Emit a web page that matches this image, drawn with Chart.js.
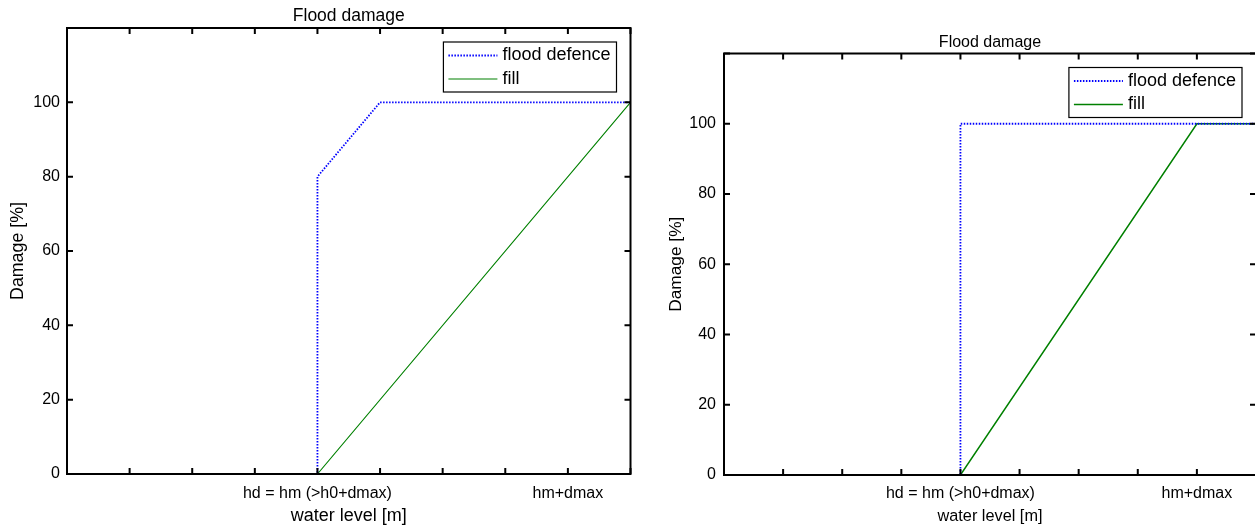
<!DOCTYPE html>
<html lang="en">
<head>
    <meta charset="UTF-8">
    <title>Flood damage</title>
    <script src="https://cdn.jsdelivr.net/npm/chart.js"></script>
    <style>
        body {
            margin: 0;
            background: white;
            overflow: hidden;
            width: 1255px;
            height: 525px;
        }
        .panel {
            position: absolute;
            top: 0;
        }
        #leftBox { left: 0; }
        #rightBox { left: 650px; }
    </style>
</head>
<body>
    <div class="panel" id="leftBox"><canvas id="leftChart" width="640" height="525"></canvas></div>
    <div class="panel" id="rightBox"><canvas id="rightChart" width="615" height="525"></canvas></div>

    <script>
        // left panel
        const leftDefenceX = [0, 4, 4, 5, 9];
        const leftDefenceY = [0, 0, 80, 100, 100];
        const leftFillX = [0, 4, 9];
        const leftFillY = [0, 0, 100];
        // right panel
        const rightDefenceX = [0, 4, 4, 9];
        const rightDefenceY = [0, 0, 100, 100];
        const rightFillX = [0, 4, 8, 9];
        const rightFillY = [0, 0, 100, 100];

        const seriesNames = ['flood defence', 'fill'];
        const xTickPos = [4, 8];
        const xTickLabels = ['hd = hm (>h0+dmax)', 'hm+dmax'];
        const yTicks = [0, 20, 40, 60, 80, 100];

        const FONT = "'Liberation Sans', Arial, sans-serif";

        function pts(xs, ys) {
            return xs.map((x, i) => ({ x: x, y: ys[i] }));
        }

        // frame with inward ticks + legend box inside the plot
        const framePlugin = {
            id: 'frame',
            afterDraw(chart, args, opts) {
                const ctx = chart.ctx;
                const a = chart.chartArea;
                const xs = chart.scales.x, ys = chart.scales.y;
                ctx.save();
                ctx.strokeStyle = '#000';
                ctx.lineWidth = 2;
                ctx.beginPath();
                xs.ticks.forEach(t => {
                    const px = xs.getPixelForValue(t.value);
                    ctx.moveTo(px, a.bottom); ctx.lineTo(px, a.bottom - 6);
                    ctx.moveTo(px, a.top); ctx.lineTo(px, a.top + 6);
                });
                ys.ticks.forEach(t => {
                    const py = ys.getPixelForValue(t.value);
                    ctx.moveTo(a.left, py); ctx.lineTo(a.left + 6, py);
                    ctx.moveTo(a.right, py); ctx.lineTo(a.right - 6, py);
                });
                ctx.stroke();
                ctx.strokeRect(a.left, a.top, a.right - a.left, a.bottom - a.top);

                // legend
                ctx.font = opts.fontSize + 'px ' + FONT;
                const sets = chart.data.datasets;
                let tw = 0;
                sets.forEach(d => { tw = Math.max(tw, ctx.measureText(d.label).width); });
                const bw = 5 + 49 + 5 + tw + 6;
                const bh = 50;
                const bx = a.right - opts.right - bw;
                const by = a.top + opts.top;
                ctx.fillStyle = 'white';
                ctx.fillRect(bx, by, bw, bh);
                ctx.lineWidth = 1.2;
                ctx.strokeRect(bx, by, bw, bh);
                sets.forEach((d, i) => {
                    const ry = by + 13.5 + i * 23.5;
                    ctx.beginPath();
                    ctx.strokeStyle = d.borderColor;
                    ctx.lineWidth = d.borderWidth;
                    ctx.setLineDash(d.borderDash || []);
                    ctx.moveTo(bx + 5, ry);
                    ctx.lineTo(bx + 54, ry);
                    ctx.stroke();
                    ctx.setLineDash([]);
                    ctx.fillStyle = '#000';
                    ctx.textBaseline = 'middle';
                    ctx.fillText(d.label, bx + 59, ry);
                });
                ctx.restore();
            }
        };

        function makeChart(id, defence, fill, cfg) {
            return new Chart(document.getElementById(id), {
                type: 'line',
                data: {
                    datasets: [
                        { label: seriesNames[0], data: defence, borderColor: '#0000ff', borderWidth: 1.8, borderDash: [1.5, 1.5], pointRadius: 0, tension: 0 },
                        { label: seriesNames[1], data: fill, borderColor: '#008000', borderWidth: cfg.fillWidth, pointRadius: 0, tension: 0 }
                    ]
                },
                options: {
                    responsive: false,
                    animation: false,
                    devicePixelRatio: 1,
                    layout: { padding: { left: 0, right: 9, top: 0, bottom: 0 } },
                    plugins: {
                        legend: { display: false },
                        tooltip: { enabled: false },
                        title: {
                            display: true,
                            fullSize: false,
                            text: 'Flood damage',
                            color: '#000',
                            font: { family: FONT, size: cfg.titleSize, weight: 'normal', lineHeight: 1 },
                            padding: { top: cfg.titleTop, bottom: cfg.titleBottom }
                        },
                        frame: { fontSize: 18, right: 14, top: 14 }
                    },
                    scales: {
                        x: {
                            type: 'linear',
                            min: 0,
                            max: 9,
                            afterFit: s => { s.height = cfg.xHeight; },
                            grid: { display: false, drawTicks: false },
                            border: { display: false },
                            ticks: {
                                stepSize: 1,
                                autoSkip: false,
                                maxRotation: 0,
                                padding: cfg.xTickPad,
                                color: '#000',
                                font: { family: FONT, size: 16 },
                                callback: v => {
                                    const i = xTickPos.indexOf(v);
                                    return i >= 0 ? xTickLabels[i] : '';
                                }
                            },
                            title: {
                                display: true,
                                text: 'water level [m]',
                                color: '#000',
                                font: { family: FONT, size: cfg.xTitleSize, lineHeight: 1 },
                                padding: { top: 0, bottom: 0 }
                            }
                        },
                        y: {
                            min: 0,
                            max: 120,
                            afterFit: s => { s.width = cfg.yWidth; },
                            grid: { display: false, drawTicks: false },
                            border: { display: false },
                            ticks: {
                                stepSize: 20,
                                padding: cfg.yTickPad,
                                color: '#000',
                                font: { family: FONT, size: 16 },
                                callback: v => yTicks.includes(v) ? String(v) : ''
                            },
                            title: {
                                display: true,
                                text: 'Damage [%]',
                                color: '#000',
                                font: { family: FONT, size: cfg.yTitleSize, lineHeight: 1 },
                                padding: { top: cfg.yTitleTop, bottom: 0 }
                            }
                        }
                    }
                },
                plugins: [framePlugin]
            });
        }

        makeChart('leftChart', pts(leftDefenceX, leftDefenceY), pts(leftFillX, leftFillY), {
            fillWidth: 1.1, titleSize: 17.5, titleTop: 7, titleBottom: 3.5,
            xHeight: 51, xTickPad: 9.5, xTitleSize: 18,
            yWidth: 67, yTickPad: 7, yTitleSize: 17.8, yTitleTop: 9.5
        });
        makeChart('rightChart', pts(rightDefenceX, rightDefenceY), pts(rightFillX, rightFillY), {
            fillWidth: 1.5, titleSize: 16, titleTop: 35, titleBottom: 2.5,
            xHeight: 50, xTickPad: 8.5, xTitleSize: 16.3,
            yWidth: 74, yTickPad: 8, yTitleSize: 17.3, yTitleTop: 17.5
        });
    </script>
</body>
</html>
